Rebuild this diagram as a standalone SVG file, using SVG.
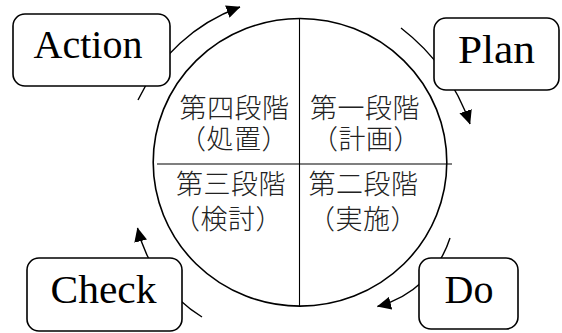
<svg xmlns="http://www.w3.org/2000/svg" width="562" height="333" viewBox="0 0 562 333">
<style>
.bg{fill:#fff}
.ring{fill:none;stroke:#000;stroke-width:1.6}
.div{stroke:#000;stroke-width:1.1;fill:none}
.box{fill:#fff;stroke:#000;stroke-width:1.6}
.lbl{font-family:"Liberation Serif",Tinos,"Noto Serif","DejaVu Serif",FreeSerif,"Noto Serif CJK JP","Times New Roman",Times,serif;font-size:40px;fill:#000;text-anchor:middle}
.jp{font-family:"Noto Sans CJK JP","Noto Sans CJK SC",sans-serif;font-size:27px;fill:#222;text-anchor:middle;font-weight:300;letter-spacing:0.5px}
.conn{fill:none;stroke:#000;stroke-width:1.4}
</style>
<defs>
<marker id="ah" markerUnits="userSpaceOnUse" viewBox="0 0 14 13" refX="13.5" refY="6.5" markerWidth="14" markerHeight="13" orient="auto">
<path d="M0,0 L14,6.5 L0,13 z" fill="#000"/>
</marker>
</defs>
<rect class="bg" x="0" y="0" width="562" height="333"/>
<g id="cycle">
<ellipse class="ring" cx="300" cy="162.3" rx="146.8" ry="143.8"/>
<line class="div" x1="299.5" y1="18.5" x2="299.5" y2="306"/>
<line class="div" x1="157" y1="164" x2="452" y2="164"/>
</g>
<g id="stage4">
<text class="jp" x="234.5" y="118">第四段階</text>
<text class="jp" x="234" y="149">（処置）</text>
</g>
<g id="stage1">
<text class="jp" x="365" y="118">第一段階</text>
<text class="jp" x="366" y="149">（計画）</text>
</g>
<g id="stage3">
<text class="jp" x="231" y="194">第三段階</text>
<text class="jp" x="228" y="229">（検討）</text>
</g>
<g id="stage2">
<text class="jp" x="363.5" y="194">第二段階</text>
<text class="jp" x="363" y="229">（実施）</text>
</g>
<g id="connectors">
<path class="conn" marker-end="url(#ah)" d="M138,100 A181,181 0 0 1 240,7"/>
<path class="conn" marker-end="url(#ah)" d="M401,28 A207,207 0 0 1 470,124"/>
<path class="conn" marker-end="url(#ah)" d="M450,238 A103,103 0 0 1 377.5,306.5"/>
<path class="conn" marker-end="url(#ah)" d="M202,317 A144,144 0 0 1 137.5,228"/>
</g>
<g id="action">
<rect class="box" x="13" y="14" width="157" height="72" rx="12"/>
<text class="lbl" x="88" y="58">Action</text>
</g>
<g id="plan">
<rect class="box" x="434" y="18" width="125" height="72" rx="12"/>
<text class="lbl" x="496.5" y="62.5" textLength="77" lengthAdjust="spacingAndGlyphs">Plan</text>
</g>
<g id="check">
<rect class="box" x="27" y="258" width="155" height="73" rx="12"/>
<text class="lbl" x="103.5" y="302.5" textLength="106" lengthAdjust="spacingAndGlyphs">Check</text>
</g>
<g id="do">
<rect class="box" x="419" y="258" width="99" height="71" rx="12"/>
<text class="lbl" x="469" y="302.5">Do</text>
</g>
</svg>
